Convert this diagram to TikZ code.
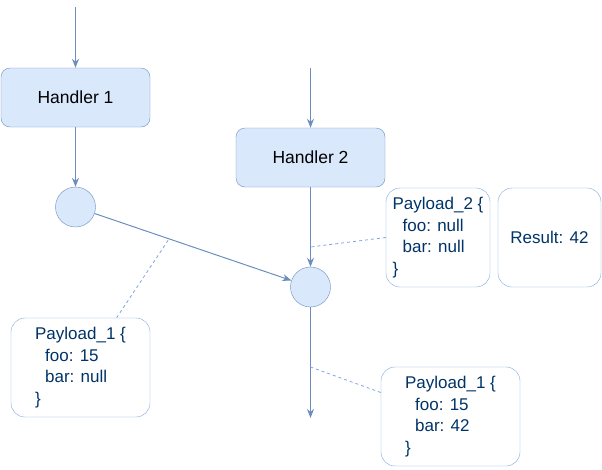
\documentclass[tikz,border=0pt]{standalone}
\usepackage{fontspec}
\setmainfont{Liberation Sans}
\usepackage{xcolor}
\usetikzlibrary{positioning,arrows.meta}

\definecolor{hfill}{HTML}{DAE8FC}
\definecolor{hline}{HTML}{6C8EBF}
\definecolor{pline}{HTML}{7EA6E0}
\definecolor{ptext}{HTML}{003366}

\begin{document}
\begin{tikzpicture}[x=1pt, y=-1pt,
    handler/.style={draw=hline, fill=hfill, rounded corners=9pt, minimum width=149pt, minimum height=59pt, font=\fontsize{17.5}{21}\selectfont},
    joint/.style={draw=hline, fill=hfill, circle, minimum size=40pt, inner sep=0pt},
    payload/.style={draw=pline, rounded corners=14pt, minimum height=99pt, text=ptext, align=left, font=\fontsize{17}{21.5}\selectfont},
    flow/.style={draw=hline, line width=1pt, -{Stealth[length=9pt,width=7pt]}},
    note/.style={draw=pline, line width=0.8pt, dash pattern=on 3pt off 3pt}]
    \useasboundingbox (0,0) rectangle (602,469);

    \node[handler] (h1) at (75.5,97.5) {Handler 1};
    \node[handler] (h2) at (310.5,157.5) {Handler 2};
    \node[joint] (c1) at (75.5,207) {};
    \node[joint] (c2) at (310.5,287) {};

    \node[payload, minimum width=104pt] (p2) at (438,237.5) {Payload\_2 \{\\\hspace*{10pt}foo: null\\\hspace*{10pt}bar: null\\\}};
    \node[payload, minimum width=103pt] (res) at (549.5,237.5) {Result: 42};
    \node[payload, minimum width=139pt] (p1) at (80.5,367.5) {Payload\_1 \{\\\hspace*{10pt}foo: 15\\\hspace*{10pt}bar: null\\\}};
    \node[payload, minimum width=139pt] (p3) at (450.5,416.5) {Payload\_1 \{\\\hspace*{10pt}foo: 15\\\hspace*{10pt}bar: 42\\\}};

    \coordinate (in1) at (75.5,7);
    \coordinate (in2) at (310.5,68);
    \coordinate (out) at (310.5,418);
    \coordinate (m1) at (169,239);
    \coordinate (m2) at (310.5,247);
    \coordinate (m3) at (310.5,367);

    \draw[flow] (in1) -- (h1);
    \draw[flow] (in2) -- (h2);
    \draw[flow] (h1) -- (c1);
    \draw[flow] (h2) -- (c2);
    \draw[flow] (c1) -- (c2);
    \draw[flow] (c2) -- (out);

    \draw[note] (p1.54) -- (m1);
    \draw[note] (p2.west) -- (m2);
    \draw[note] (p3.161) -- (m3);
\end{tikzpicture}
\end{document}
